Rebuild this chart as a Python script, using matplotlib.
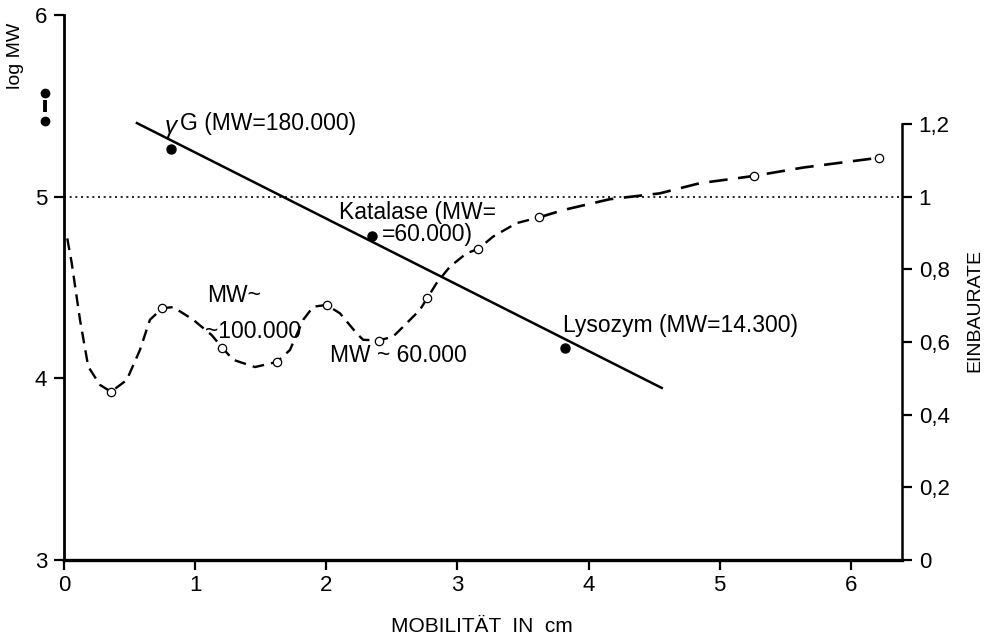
import matplotlib.pyplot as plt

plt.rcParams['font.family'] = ['Liberation Sans', 'DejaVu Sans']

# marker proteins (log MW, left axis)
marker_names = ['γG', 'Katalase', 'Lysozym']
marker_x = [0.816, 2.348, 3.819]
marker_logmw = [5.262, 4.783, 4.167]

# calibration line (ends)
calib_x = [0.556, 4.558]
calib_logmw = [5.405, 3.947]

# start marker pair left of the axis
start_x = [-0.145, -0.145]
start_logmw = [5.570, 5.416]

# measured incorporation rate (right axis, open circles)
rate_x = [0.358, 0.749, 1.207, 1.623, 2.002, 2.401, 2.769, 3.158, 3.623, 5.261, 6.212]
rate_y = [0.463, 0.693, 0.584, 0.545, 0.702, 0.604, 0.720, 0.856, 0.943, 1.057, 1.107]

# hand-drawn dashed curve
curve_x = [0.025, 0.059, 0.122, 0.185, 0.274, 0.358, 0.478, 0.579, 0.655, 0.749,
           0.833, 0.986, 1.126, 1.207, 1.290, 1.456, 1.623, 1.723, 1.824, 1.900,
           2.002, 2.104, 2.231, 2.281, 2.401, 2.510, 2.586, 2.713, 2.769, 2.841,
           2.942, 3.069, 3.158, 3.272, 3.450, 3.623]
curve_y = [0.885, 0.817, 0.661, 0.532, 0.482, 0.463, 0.495, 0.578, 0.661, 0.693,
           0.696, 0.661, 0.619, 0.584, 0.551, 0.531, 0.545, 0.578, 0.661, 0.697,
           0.702, 0.679, 0.624, 0.606, 0.604, 0.615, 0.642, 0.688, 0.720, 0.762,
           0.807, 0.844, 0.856, 0.890, 0.927, 0.943]
# flatter tail, drawn with longer dashes
tail_x = [3.623, 3.806, 4.162, 4.543, 4.848, 5.261, 5.635, 6.212]
tail_y = [0.943, 0.963, 0.993, 1.009, 1.037, 1.057, 1.080, 1.107]

left_ticks = [3, 4, 5, 6]
right_ticks = [0, 0.2, 0.4, 0.6, 0.8, 1.0, 1.2]
right_labels = ['0', '0,2', '0,4', '0,6', '0,8', '1', '1,2']
x_ticks = [0, 1, 2, 3, 4, 5, 6]

fig = plt.figure(figsize=(10, 6.37), dpi=100)
ax = fig.add_axes([0.064, 0.1209, 0.838, 0.8556])
ax.set_xlim(0, 6.39)
ax.set_ylim(3, 6)

ax2 = ax.twinx()
ax2.set_ylim(0, 1.5)

for s in ['top', 'right']:
    ax.spines[s].set_visible(False)
for s in ['top', 'left', 'bottom']:
    ax2.spines[s].set_visible(False)
ax.spines['left'].set_linewidth(2.0)
ax.spines['bottom'].set_linewidth(2.4)
ax2.spines['right'].set_linewidth(1.8)
ax2.spines['right'].set_bounds(0, 1.2)

ax.set_xticks(x_ticks)
ax.set_yticks(left_ticks)
ax.tick_params(axis='both', direction='out', length=7, width=1.6,
               labelsize=16, pad=5)
ax.tick_params(axis='x', pad=4)
ax2.set_yticks(right_ticks)
ax2.set_yticklabels(right_labels)
ax2.tick_params(axis='y', direction='out', length=7, width=1.6,
                labelsize=16, pad=5)

# dotted reference line at log MW 5 / rate 1
ax.plot([0, 6.39], [5, 5], color='black', lw=1.2, ls=(0, (1.2, 2.2)))

# calibration line and marker proteins
ax.plot(calib_x, calib_logmw, color='black', lw=1.8)
ax.plot(marker_x, marker_logmw, 'o', color='black', ms=6.5, zorder=5)

# start marker pair outside the axis
ax.plot(start_x, start_logmw, 'o', color='black', ms=6, clip_on=False)
ax.plot([start_x[0], start_x[0]], [5.466, 5.532], color='black', lw=2.8,
        solid_capstyle='butt', clip_on=False)

# incorporation rate
ax2.plot(curve_x, curve_y, color='black', lw=1.7, dashes=(5, 3))
ax2.plot(tail_x, tail_y, color='black', lw=1.9, dashes=(7, 4))
ax2.plot(rate_x, rate_y, 'o', ms=6, mfc='white', mec='black', mew=0.9,
         zorder=6)

fs = 16.5
ax.text(0.770, 5.385, 'γ', fontsize=fs + 1, style='italic', ha='left', va='center')
ax.text(0.884, 5.405, 'G (MW=180.000)', fontsize=fs, ha='left', va='center')
ax.text(2.096, 4.910, 'Katalase (MW=', fontsize=fs, ha='left', va='center')
ax.text(2.424, 4.789, '=60.000)', fontsize=fs, ha='left', va='center')
ax.text(1.090, 4.458, 'MW~', fontsize=fs, ha='left', va='center')
ax.text(1.075, 4.255, '~100.000', fontsize=fs, ha='left', va='center')
ax.text(2.027, 4.123, 'MW ~ 60.000', fontsize=fs, ha='left', va='center')
ax.text(3.803, 4.288, 'Lysozym (MW=14.300)', fontsize=fs, ha='left', va='center')

fig.text(0.015, 0.912, 'log MW', rotation=90, fontsize=14, ha='center', va='center')
fig.text(0.975, 0.512, 'EINBAURATE', rotation=90, fontsize=14, ha='center', va='center')
fig.text(0.482, 0.016, 'MOBILITÄT  IN  cm', fontsize=15, ha='center', va='center')

fig.savefig('out.png', dpi=100)
